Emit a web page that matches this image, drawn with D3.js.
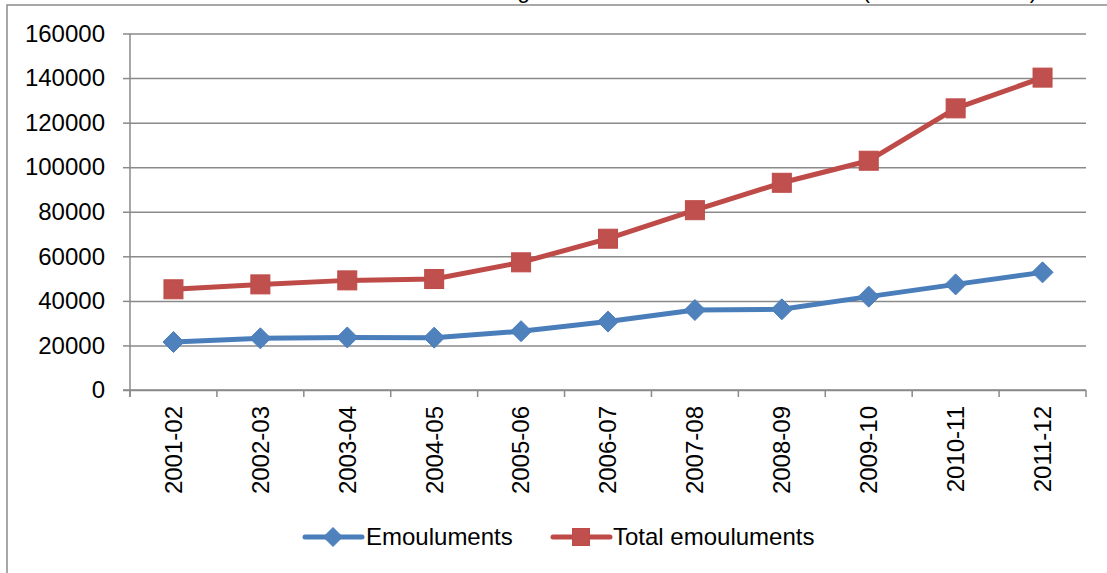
<!DOCTYPE html>
<html>
<head>
<meta charset="utf-8">
<script src="https://cdnjs.cloudflare.com/ajax/libs/d3/7.8.5/d3.min.js"></script>
<style>
    body { margin: 0; background: #fff; }
    svg text { font-family: "Liberation Sans", Arial, sans-serif; fill: #000; }
</style>
</head>
<body>
<div id="chart"></div>
<script>
// Data
const years = ["2001-02", "2002-03", "2003-04", "2004-05", "2005-06", "2006-07",
               "2007-08", "2008-09", "2009-10", "2010-11", "2011-12"];
const emoluments = [21540, 23200, 23600, 23500, 26400, 30700, 35900, 36200, 41900, 47400, 52800];
const totalEmoluments = [45200, 47400, 49200, 49800, 57300, 67900, 80700, 93000, 102900, 126400, 140200];
const yTicks = [0, 20000, 40000, 60000, 80000, 100000, 120000, 140000, 160000];
const seriesNames = ["Emouluments", "Total emouluments"];

const WIDTH = 1107, HEIGHT = 573;
const plot = { left: 130, right: 1086, top: 33.5, bottom: 390 };

const BLUE_LINE = "#4a7ebb", BLUE_FILL = "#4f81bd";
const RED_LINE = "#be4b48", RED_FILL = "#c0504d";
const GRID = "#8a8a8a";

const svg = d3.select("#chart").append("svg")
    .attr("width", WIDTH)
    .attr("height", HEIGHT);

// title, mostly cropped off the top of the picture
svg.append("text")
    .attr("x", 101)
    .attr("y", -2)
    .attr("font-size", 23)
    .text("Emoluments and Total emoluments during the decade 2001-02 to 2011-12 (Rs. in thousand)");

// chart border (only left and top visible)
svg.append("path")
    .attr("d", "M7," + HEIGHT + "V5H" + WIDTH)
    .attr("fill", "none")
    .attr("stroke", GRID)
    .attr("stroke-width", 1.5);

const x = d3.scaleBand().domain(years).range([plot.left, plot.right]);
const y = d3.scaleLinear().domain([0, 160000]).range([plot.bottom, plot.top]);
const cx = d => x(d) + x.bandwidth() / 2;

// gridlines
svg.append("g")
    .attr("transform", "translate(" + plot.left + ",0)")
    .call(d3.axisLeft(y).tickValues(yTicks).tickSize(-(plot.right - plot.left)).tickFormat(""))
    .call(g => g.select(".domain").remove())
    .selectAll("line")
        .attr("stroke", GRID)
        .attr("stroke-width", 1.5);

// y axis
const yAxis = svg.append("g")
    .attr("transform", "translate(" + plot.left + ",0)")
    .call(d3.axisLeft(y).tickValues(yTicks).tickSize(7).tickPadding(18).tickFormat(d3.format("d")));
yAxis.select(".domain")
    .attr("d", "M0," + plot.top + "V" + (plot.bottom + 7))
    .attr("stroke", GRID).attr("stroke-width", 1.5);
yAxis.selectAll("line").attr("stroke", GRID).attr("stroke-width", 1.5);
yAxis.selectAll("text").attr("font-size", 24).attr("font-family", null);

// x axis: ticks sit between categories
const xAxis = svg.append("g")
    .attr("transform", "translate(0," + plot.bottom + ")");
xAxis.append("line")
    .attr("x1", plot.left - 7).attr("x2", plot.right)
    .attr("stroke", GRID).attr("stroke-width", 1.5);
xAxis.selectAll("line.tick")
    .data(years.map(d => x(d)).concat([plot.right]))
    .enter().append("line")
        .attr("class", "tick")
        .attr("x1", d => d).attr("x2", d => d)
        .attr("y1", 0).attr("y2", 7)
        .attr("stroke", GRID).attr("stroke-width", 1.5);
xAxis.selectAll("text")
    .data(years)
    .enter().append("text")
        .attr("transform", d => "translate(" + cx(d) + ",16) rotate(-90)")
        .attr("text-anchor", "end")
        .attr("dy", "0.35em")
        .attr("font-size", 24)
        .text(d => d);

// series
const series = [
    { name: seriesNames[0], values: emoluments, line: BLUE_LINE, fill: BLUE_FILL, shape: "diamond" },
    { name: seriesNames[1], values: totalEmoluments, line: RED_LINE, fill: RED_FILL, shape: "square" }
];

function marker(sel, s, size) {
    if (s.shape === "diamond") {
        const h = size / 2 + 1;
        sel.append("path")
            .attr("d", "M0," + (-h) + "L" + h + ",0L0," + h + "L" + (-h) + ",0Z")
            .attr("fill", s.fill).attr("stroke", s.line).attr("stroke-width", 1);
    } else {
        const h = size / 2;
        sel.append("rect")
            .attr("x", -h).attr("y", -h).attr("width", size).attr("height", size)
            .attr("fill", s.fill).attr("stroke", s.line).attr("stroke-width", 1);
    }
}

const line = d3.line()
    .x((d, i) => cx(years[i]))
    .y(d => y(d));

series.forEach(s => {
    svg.append("path")
        .datum(s.values)
        .attr("fill", "none")
        .attr("stroke", s.line)
        .attr("stroke-width", 5)
        .attr("stroke-linejoin", "round")
        .attr("d", line);

    svg.append("g")
        .selectAll("g")
        .data(s.values)
        .enter().append("g")
            .attr("transform", (d, i) => "translate(" + cx(years[i]) + "," + y(d) + ")")
            .each(function () { marker(d3.select(this), s, 19); });
});

// legend
const legendItems = [
    { x: 305, textX: 366 },
    { x: 553, textX: 613 }
];
const legend = svg.append("g").attr("transform", "translate(0,537)");
series.forEach((s, i) => {
    const it = legendItems[i];
    legend.append("line")
        .attr("x1", it.x).attr("x2", it.x + 57)
        .attr("stroke", s.line).attr("stroke-width", 5).attr("stroke-linecap", "round");
    const m = legend.append("g").attr("transform", "translate(" + (it.x + 28) + ",0)");
    marker(m, s, 17);
    legend.append("text")
        .attr("x", it.textX)
        .attr("dy", "0.35em")
        .attr("font-size", 24)
        .text(s.name);
});
</script>
</body>
</html>
